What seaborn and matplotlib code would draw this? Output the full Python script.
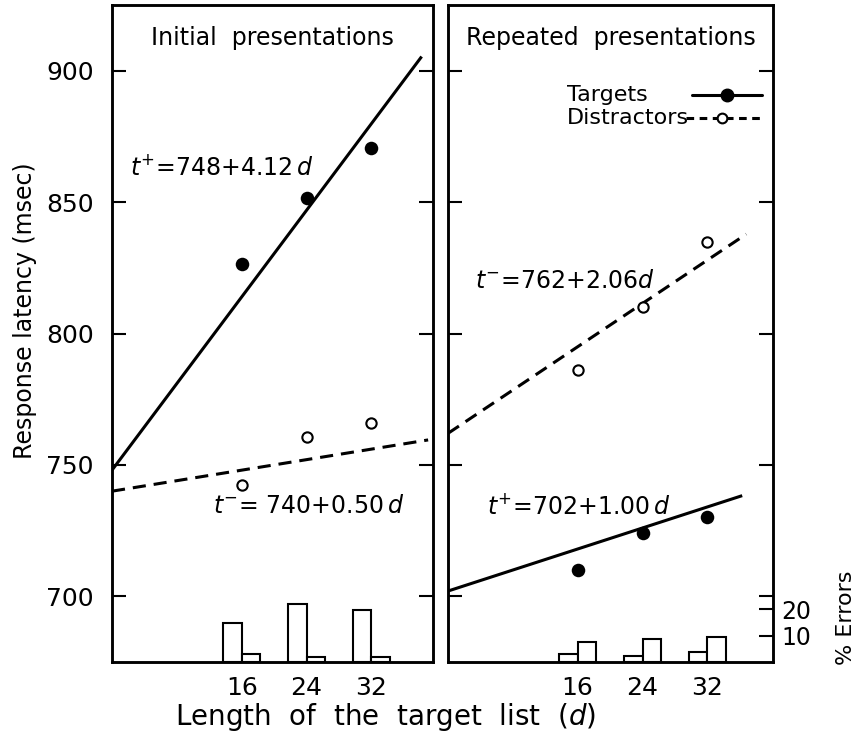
import numpy as np
import pandas as pd
import seaborn as sns
import matplotlib.pyplot as plt

# --- dados ---
lengths = [16, 24, 32]

# apresentacoes iniciais
init_targets = [826.5, 851.5, 870.5]
init_distractors = [742.5, 760.5, 766.0]
init_err_left = [14.7, 22.0, 19.8]
init_err_right = [2.9, 1.9, 1.7]

# apresentacoes repetidas
rep_targets = [710.0, 724.0, 730.0]
rep_distractors = [786.0, 810.0, 835.0]
rep_err_left = [3.0, 2.2, 3.7]
rep_err_right = [7.4, 8.5, 9.6]

# retas ajustadas (intercepto, inclinacao)
init_fit_targets = (748, 4.12)
init_fit_distractors = (740, 0.50)
rep_fit_targets = (702, 1.00)
rep_fit_distractors = (762, 2.06)

sns.set_style("ticks")
plt.rcParams['font.family'] = ['DejaVu Sans']
plt.rcParams['mathtext.fontset'] = 'dejavusans'
for k in ['text.color', 'axes.labelcolor', 'xtick.color', 'ytick.color', 'axes.edgecolor']:
    plt.rcParams[k] = 'black'

fig = plt.figure(figsize=(8.57, 7.36), dpi=100)
ax1 = fig.add_axes([112 / 857, 74 / 736, 321 / 857, 657 / 736])
ax2 = fig.add_axes([448 / 857, 74 / 736, 325 / 857, 657 / 736], sharey=ax1)

LW = 2.2
DASH = (4.3, 2.6)
BAR_W = 2.3


def draw_panel(ax, targets, distractors, fit_t, fit_d, end_t, end_d, xmax):
    xt = np.array([0, end_t])
    xd = np.array([0, end_d])
    ax.plot(xt, fit_t[0] + fit_t[1] * xt, color='black', lw=LW, solid_capstyle='butt')
    ax.plot(xd, fit_d[0] + fit_d[1] * xd, color='black', lw=LW, dashes=DASH)
    df = pd.DataFrame({'d': lengths * 2,
                       'rt': targets + distractors,
                       'tipo': ['Targets'] * 3 + ['Distractors'] * 3})
    sns.scatterplot(data=df[df.tipo == 'Targets'], x='d', y='rt', ax=ax,
                    color='black', s=95, edgecolor='black', linewidth=0, zorder=5)
    sns.scatterplot(data=df[df.tipo == 'Distractors'], x='d', y='rt', ax=ax,
                    color='white', s=55, edgecolor='black', linewidth=1.5, zorder=5)
    ax.set_xlim(0, xmax)
    ax.set_xlabel('')
    ax.set_ylabel('')
    ax.set_xticks(lengths)
    ax.set_xticklabels([str(v) for v in lengths])
    ax.tick_params(axis='x', length=0, pad=10, labelsize=18)
    for sp in ax.spines.values():
        sp.set_linewidth(1.8)
        sp.set_visible(True)


draw_panel(ax1, init_targets, init_distractors, init_fit_targets,
           init_fit_distractors, 38.2, 39.0, 39.6)
draw_panel(ax2, rep_targets, rep_distractors, rep_fit_targets,
           rep_fit_distractors, 36.3, 36.8, 40.1)

ax1.set_ylim(675, 925)
ax1.set_yticks([700, 750, 800, 850, 900])

# barras de erro (%) em eixo secundario
err1 = ax1.twinx()
err2 = ax2.twinx()
for ax_e, left_vals, right_vals in [(err1, init_err_left, init_err_right),
                                    (err2, rep_err_left, rep_err_right)]:
    xs = np.array(lengths)
    ax_e.bar(xs - BAR_W / 2, left_vals, width=BAR_W, facecolor='white',
             edgecolor='black', linewidth=1.5)
    ax_e.bar(xs + BAR_W / 2, right_vals, width=BAR_W, facecolor='white',
             edgecolor='black', linewidth=1.5)
    ax_e.set_ylim(0, 248)
    ax_e.set_yticks([])
    for sp in ax_e.spines.values():
        sp.set_linewidth(1.8)

# ticks internos nos dois lados de cada painel (depois do twinx)
for ax in (ax1, ax2):
    ax.tick_params(axis='y', direction='in', length=10, width=1.5,
                   left=True, right=True, labelsize=18, pad=13)
ax2.tick_params(axis='y', labelleft=False)

err2.set_yticks([10, 20])
err2.tick_params(axis='y', direction='in', length=10, width=1.5, labelsize=17, pad=6)
fig.text(846 / 857, 1 - 618 / 736, '% Errors', rotation=90, ha='center',
         va='center', fontsize=16)

# titulos dos paineis
ax1.text(0.5, 0.95, 'Initial  presentations', transform=ax1.transAxes,
         ha='center', va='center', fontsize=17)
ax2.text(0.5, 0.95, 'Repeated  presentations', transform=ax2.transAxes,
         ha='center', va='center', fontsize=17)

# equacoes
ax1.text(2.2, 863, r'$t^{+}$=748+4.12$\,d$', fontsize=17, ha='left', va='center')
ax1.text(12.5, 734.5, r'$t^{-}$= 740+0.50$\,d$', fontsize=17, ha='left', va='center')
ax2.text(3.3, 820, r'$t^{-}$=762+2.06$d$', fontsize=17, ha='left', va='center')
ax2.text(4.8, 734, r'$t^{+}$=702+1.00$\,d$', fontsize=17, ha='left', va='center')

# legenda desenhada a mao (texto alinhado a esquerda, simbolo depois)
tr = ax2.transAxes
ax2.text(0.366, 0.863, 'Targets', transform=tr, fontsize=16, ha='left', va='center')
ax2.text(0.366, 0.828, 'Distractors', transform=tr, fontsize=16, ha='left', va='center')
ax2.plot([0.751, 0.966], [0.863, 0.863], transform=tr, color='black', lw=LW,
         clip_on=False)
ax2.plot([0.858], [0.863], transform=tr, marker='o', markersize=9, color='black',
         clip_on=False)
ax2.plot([0.732, 0.966], [0.828, 0.828], transform=tr, color='black', lw=LW,
         dashes=(2.5, 1.8), clip_on=False)
ax2.plot([0.843], [0.828], transform=tr, marker='o', markersize=7,
         markerfacecolor='white', markeredgecolor='black', markeredgewidth=1.5,
         clip_on=False, zorder=6)

fig.text(25 / 857, 1 - 311 / 736, 'Response latency (msec)', rotation=90,
         ha='center', va='center', fontsize=17)
fig.text(386 / 857, 1 - 717 / 736, r'Length  of  the  target  list  ($d$)',
         ha='center', va='center', fontsize=20)

fig.savefig('out.png', dpi=100)
